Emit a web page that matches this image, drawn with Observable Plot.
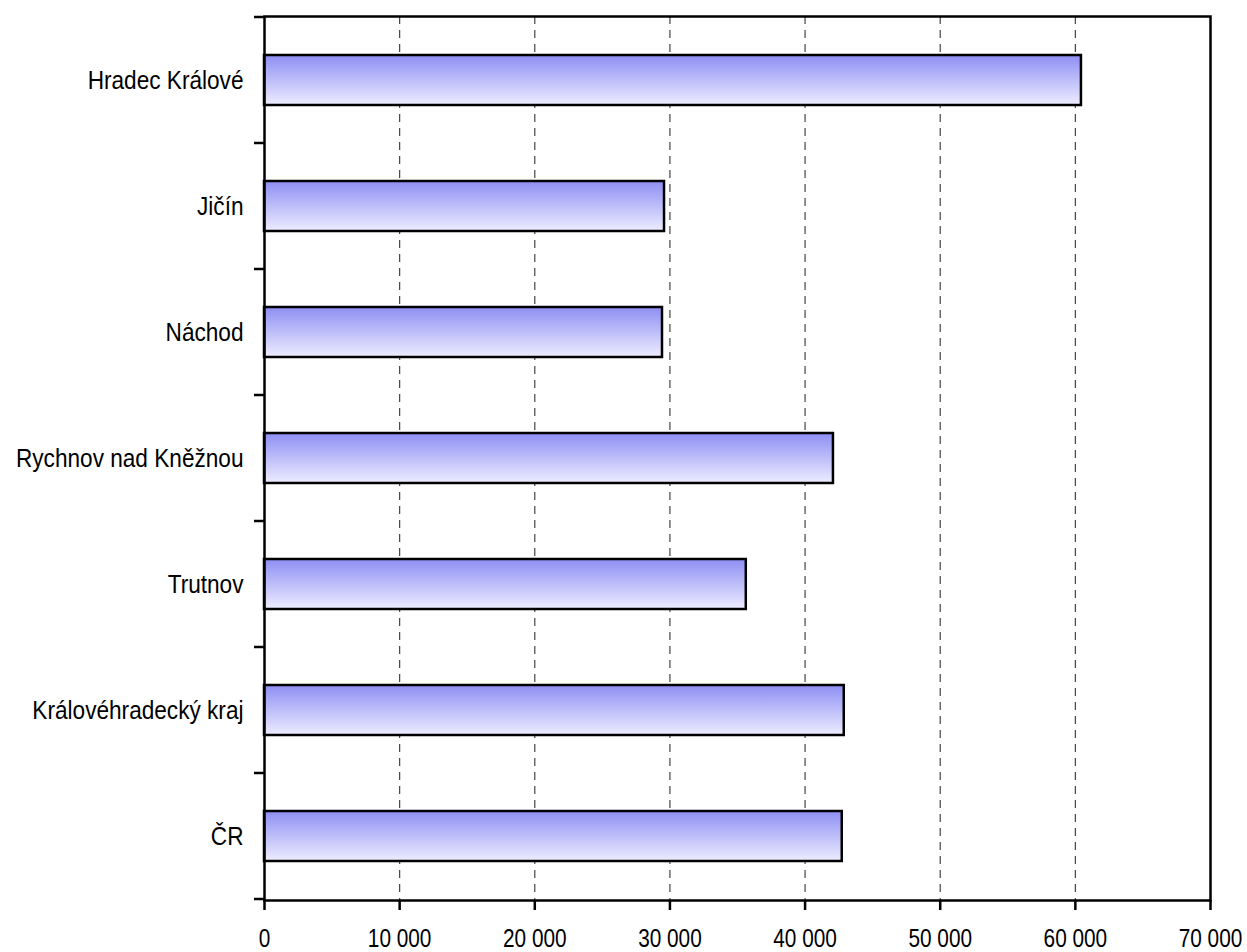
<!DOCTYPE html>
<html><head><meta charset="utf-8">
<script src="https://cdn.jsdelivr.net/npm/d3@7"></script>
<script src="https://cdn.jsdelivr.net/npm/@observablehq/plot@0.6"></script>
<style>
body{margin:0;background:#fff}
</style>
</head><body><div id="chart"></div>
<script>
const categories = ["Hradec Králové","Jičín","Náchod","Rychnov nad Kněžnou","Trutnov","Královéhradecký kraj","ČR"];
const values = [60450, 29600, 29450, 42100, 35650, 42900, 42750];
const xTicks = [0,10000,20000,30000,40000,50000,60000,70000];
const gridTicks = [10000,20000,30000,40000,50000,60000];

const data = categories.map((c,i)=>({category:c, value:values[i]}));
const fmt = d => d3.format(",")(d).replace(/,/g," ");

const W = 1247, H = 952;
const mL = 264, mR = 37, mT = 16, mB = 52;

function gradientDefs() {
  const defs = d3.create("svg:defs");
  const g = defs.append("linearGradient").attr("id","barGrad")
    .attr("x1",0).attr("y1",0).attr("x2",0).attr("y2",1);
  g.append("stop").attr("offset","0%").attr("stop-color","#8e8ef4");
  g.append("stop").attr("offset","100%").attr("stop-color","#ededff");
  return defs.node();
}

function boundaryTicks(index, scales, values, dimensions) {
  const y = scales.y;
  const pos = categories.map(c => y(c));
  const step = pos[1] - pos[0];
  const bw = typeof y.bandwidth === "function" ? y.bandwidth() : step * 0.4;
  const x0 = dimensions.marginLeft;
  const bounds = pos.map(p => p + bw/2 - step/2);
  bounds.push(pos[pos.length-1] + bw/2 + step/2);
  const g = d3.create("svg:g").attr("stroke","black").attr("stroke-width",2.5);
  g.selectAll("line").data(bounds).join("line")
    .attr("x1", x0 - 10).attr("x2", x0).attr("y1", d=>d).attr("y2", d=>d);
  return g.node();
}

const plot = Plot.plot({
  width: W, height: H,
  marginLeft: mL, marginRight: mR, marginTop: mT, marginBottom: mB,
  style: {fontSize: "26px", fontFamily: '"Liberation Sans",Arial,sans-serif', color: "black", background: "white"},
  x: {domain: [0, 70000], range: [mL, W - mR]},
  y: {domain: categories, paddingInner: 0.6, paddingOuter: 0.3},
  marks: [
    gradientDefs,
    Plot.ruleX(gridTicks, {stroke: "#444", strokeWidth: 1.2, strokeDasharray: "8,6", strokeOpacity: 1}),
    Plot.barX(data, {x: "value", y: "category", fill: "url(#barGrad)", stroke: "black", strokeWidth: 2.5}),
    Plot.axisY({tickSize: 0, tickPadding: 21, label: null, fontSize: 26, textAnchor: "end"}),
    Plot.axisX({ticks: xTicks, tickFormat: fmt, tickSize: 10, tickPadding: 18, strokeWidth: 2.5, stroke: "black", label: null, fontSize: 26}),
    boundaryTicks,
    Plot.frame({stroke: "black", strokeWidth: 2.5})
  ]
});
// horizontally condense the tick labels (the reference uses a narrow face)
d3.select(plot).selectAll("g[aria-label='y-axis tick label'] text").each(function() {
  const t = this.getAttribute("transform") || "";
  this.setAttribute("transform", t + " scale(0.87,1)");
});
d3.select(plot).selectAll("g[aria-label='x-axis tick label'] text").each(function() {
  const t = this.getAttribute("transform") || "";
  this.setAttribute("transform", t + " scale(0.8,1)");
});
document.getElementById("chart").appendChild(plot);
</script>
</body></html>
